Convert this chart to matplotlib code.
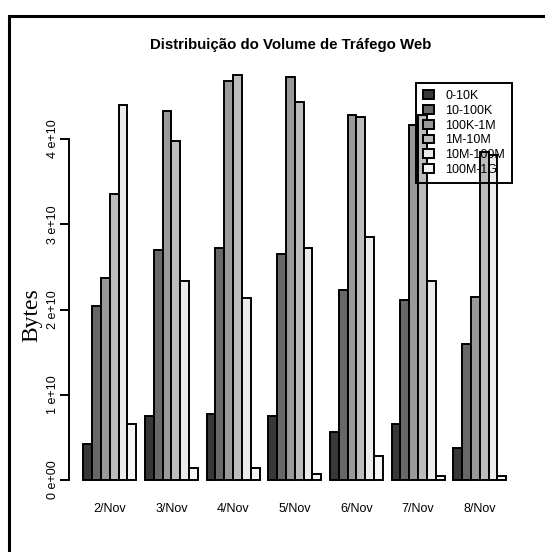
import matplotlib
matplotlib.use("Agg")
import matplotlib.pyplot as plt
from matplotlib.patches import Rectangle
import numpy as np

# traffic volume per day, one list per file-size class (units of 1e10 bytes)
days = ["2/Nov", "3/Nov", "4/Nov", "5/Nov", "6/Nov", "7/Nov", "8/Nov"]
classes = ["0-10K", "10-100K", "100K-1M", "1M-10M", "10M-100M", "100M-1G"]
vol_0_10k = [0.424, 0.753, 0.774, 0.753, 0.568, 0.658, 0.379]
vol_10_100k = [2.037, 2.695, 2.716, 2.646, 2.226, 2.110, 1.597]
vol_100k_1m = [2.366, 4.330, 4.680, 4.730, 4.280, 4.170, 2.152]
vol_1m_10m = [3.350, 3.980, 4.750, 4.440, 4.260, 4.280, 3.850]
vol_10m_100m = [4.400, 2.340, 2.130, 2.716, 2.856, 2.340, 3.810]
vol_100m_1g = [0.658, 0.144, 0.144, 0.074, 0.284, 0.049, 0.049]

series = [vol_0_10k, vol_10_100k, vol_100k_1m, vol_1m_10m, vol_10m_100m, vol_100m_1g]
greys = ["#383838", "#686868", "#999999", "#bcbcbc", "#ebebeb", "#f5f5f5"]

plt.rcParams["font.family"] = ["Liberation Sans", "DejaVu Sans"]

W, H = 545, 552
fig = plt.figure(figsize=(W / 100, H / 100), dpi=100)
fig.patch.set_facecolor("white")

# plot region in pixels: left 69.3, right 520, top 59.5, bottom 496
ax = fig.add_axes([69.3 / W, (H - 496) / H, (520 - 69.3) / W, (496 - 59.5) / H])
ax.patch.set_alpha(0)

unit = 8.81
x0 = 74.5
ax.set_xlim((69.3 - x0) / unit, (520 - x0) / unit)
ax.set_ylim(-0.1877e10, 4.933e10)

n = len(series)
for k, vals in enumerate(series):
    lefts = [1 + g * (n + 1) + k for g in range(len(days))]
    ax.bar(lefts, np.array(vals) * 1e10, width=1, align="edge",
           color=greys[k], edgecolor="black", linewidth=1.4, label=classes[k])

for side in ["top", "right", "bottom"]:
    ax.spines[side].set_visible(False)
ax.spines["left"].set_bounds(0, 4e10)
ax.spines["left"].set_linewidth(1.4)

yt = [0, 1e10, 2e10, 3e10, 4e10]
ax.set_yticks(yt)
ax.set_yticklabels(["0 e+00", "1 e+10", "2 e+10", "3 e+10", "4 e+10"],
                   rotation=90, va="center", fontsize=9)
ax.tick_params(axis="y", length=6.5, width=1.4, pad=1)

centers = [1 + g * (n + 1) + n / 2 for g in range(len(days))]
ax.set_xticks(centers)
ax.set_xticklabels(days, fontsize=9)
ax.tick_params(axis="x", length=0, pad=5)

leg = ax.legend(loc="upper left", bbox_to_anchor=(415.7 / W, 1 - 82.7 / H),
                bbox_transform=fig.transFigure, borderaxespad=0, fontsize=9,
                fancybox=False, edgecolor="black",
                handlelength=0.85, handleheight=0.7, handletextpad=0.9,
                labelspacing=0.22, borderpad=0.6)
frame = leg.get_frame()
frame.set_facecolor("none")
frame.set_alpha(None)
frame.set_linewidth(1.4)
leg.set_zorder(5)

fig.text(291 / W, 1 - 45 / H, "Distribuição do Volume de Tráfego Web",
         ha="center", va="center", fontsize=10.8, fontweight="bold")
fig.text(31.5 / W, 1 - 315 / H, "Bytes", rotation=90, ha="center", va="center",
         fontsize=17, family="Liberation Serif")

# outer frame, open on the right and bottom edges
fig.add_artist(Rectangle((9.3 / W, -0.2), 1.3, 1 - 15.5 / H + 0.2,
                         transform=fig.transFigure, fill=False,
                         linewidth=2.2, edgecolor="black"))

fig.savefig("out.png", dpi=100)
